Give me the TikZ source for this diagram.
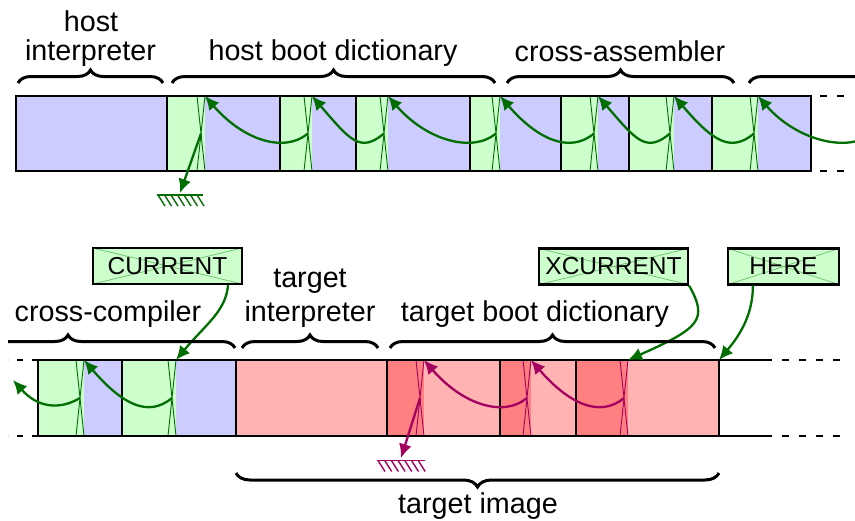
\documentclass[tikz,border=0pt]{standalone}
\usepackage{fontspec}
\setmainfont{Liberation Sans}
\usetikzlibrary{calc,arrows.meta,decorations.pathreplacing}

\definecolor{hostblue}{RGB}{204,204,255}
\definecolor{hdrgreen}{RGB}{204,255,204}
\definecolor{tgtpink}{RGB}{255,179,179}
\definecolor{tgtred}{RGB}{255,128,128}
\definecolor{lnkgreen}{RGB}{0,110,0}
\definecolor{lnkpurple}{RGB}{163,0,95}
\definecolor{crossgreen}{RGB}{120,195,120}

\tikzset{
  cellframe/.style={draw=black, line width=2.3pt},
  linkx/.style={line width=0.9pt},
  linkarrow/.style={line width=2.3pt, -{Latex[length=14pt,width=13pt]}},
  bracedeco/.style={decorate, decoration={brace, amplitude=#1}, line width=3pt},
  bracedeco/.default=13pt,
  lbl/.style={font=\fontsize{28.7}{32}\selectfont, anchor=base, inner sep=0pt},
  ptrbox/.style={draw=black, line width=2.3pt, fill=hdrgreen, inner sep=0pt,
    minimum height=36pt, font=\fontsize{24.5}{26}\selectfont,
    path picture={\draw[crossgreen, line width=0.8pt]
      (path picture bounding box.north west) -- (path picture bounding box.south east)
      (path picture bounding box.south west) -- (path picture bounding box.north east);}},
  rowdash/.style={draw=black, line width=2.3pt, dash pattern=on 7pt off 10pt},
  groundline/.style={line width=1.4pt},
}

\begin{document}
\begin{tikzpicture}[x=1pt,y=-1pt]
\useasboundingbox (0,0) rectangle (855,520);
\clip (8,0) rectangle (855,520);

% ---------- host memory ----------
\fill[hostblue] (16,96) rectangle (167,171);
\draw[cellframe] (16,96) rectangle (167,171);
\foreach \i/\st/\lk/\en in {1/167/197/280, 2/280/304/356, 3/356/380/470,
                            4/470/492/561, 5/561/590/629, 6/629/666/712, 7/712/750/811}{
  \fill[hdrgreen] (\st,96) rectangle (\lk+8,171);
  \fill[hostblue] (\lk+8,96) rectangle (\en,171);
  \draw[lnkgreen, linkx] (\lk,96) -- (\lk+8,171) (\lk+8,96) -- (\lk,171);
  \draw[cellframe] (\st,96) rectangle (\en,171);
  \coordinate (hx\i) at (\lk+4,133.5);
  \coordinate (hc\i) at (\lk+8,96);
}
\coordinate (hx8) at (872,133.5);
\draw[rowdash, dash pattern=on 6.5pt off 10.5pt] (820,96) -- (845,96) (820,171) -- (845,171);

% links of the host dictionary
\foreach \a/\b in {2/1,3/2,4/3,5/4,6/5,7/6,8/7}{
  \draw[lnkgreen, linkarrow] (hx\a) .. controls ($(hx\a)+(-24,20)$) and ($(hc\b)+(38,44)$) .. (hc\b);
}
\coordinate (gtop) at (180,193);
\draw[lnkgreen, linkarrow] (hx1) -- (gtop);
\draw[lnkgreen, groundline] ($(gtop)+(-23,2)$) -- ($(gtop)+(23,2)$);
\foreach \k in {0,...,6}{
  \draw[lnkgreen, groundline] ($(gtop)+(-22+6.5*\k,2)$) -- ++(7,11);
}

% ---------- target side memory ----------
\foreach \i/\st/\lk/\en in {1/38/76/122, 2/122/168/236}{
  \fill[hdrgreen] (\st,360) rectangle (\lk+8,436);
  \fill[hostblue] (\lk+8,360) rectangle (\en,436);
  \draw[lnkgreen, linkx] (\lk,360) -- (\lk+8,436) (\lk+8,360) -- (\lk,436);
  \draw[cellframe] (\st,360) rectangle (\en,436);
  \coordinate (bx\i) at (\lk+4,398);
  \coordinate (bc\i) at (\lk+8,360);
}
\fill[tgtpink] (236,360) rectangle (387,436);
\draw[cellframe] (236,360) rectangle (387,436);
\foreach \i/\st/\lk/\en in {1/387/416/500, 2/500/523/576, 3/576/620/719}{
  \fill[tgtred] (\st,360) rectangle (\lk+8,436);
  \fill[tgtpink] (\lk+8,360) rectangle (\en,436);
  \draw[lnkpurple, linkx] (\lk,360) -- (\lk+8,436) (\lk+8,360) -- (\lk,436);
  \draw[cellframe] (\st,360) rectangle (\en,436);
  \coordinate (tx\i) at (\lk+4,398);
  \coordinate (tc\i) at (\lk+8,360);
}
\coordinate (heretgt) at (719,360);
\draw[cellframe] (719,360) -- (772,360) (719,436) -- (772,436);
\draw[rowdash] (782,360) -- (845,360) (782,436) -- (845,436);
\draw[rowdash, dash pattern=on 6pt off 9pt] (38,360) -- (8,360) (38,436) -- (8,436);

% links of the cross-compiler and the target dictionary
\coordinate (leftend) at (13,380);
\draw[lnkgreen, linkarrow] (bx1) .. controls ($(bx1)+(-20,12)$) and ($(leftend)+(25,28)$) .. (leftend);
\draw[lnkgreen, linkarrow] (bx2) .. controls ($(bx2)+(-24,20)$) and ($(bc1)+(38,44)$) .. (bc1);
\foreach \a/\b in {2/1,3/2}{
  \draw[lnkpurple, linkarrow] (tx\a) .. controls ($(tx\a)+(-24,20)$) and ($(tc\b)+(38,44)$) .. (tc\b);
}
\coordinate (gbot) at (401,458);
\draw[lnkpurple, linkarrow] (tx1) -- (gbot);
\draw[lnkpurple, groundline] ($(gbot)+(-24,2.5)$) -- ($(gbot)+(24,2.5)$);
\foreach \k in {0,...,6}{
  \draw[lnkpurple, groundline] ($(gbot)+(-23+6.7*\k,2.5)$) -- ++(7,11);
}

% ---------- pointers ----------
\node[ptrbox, minimum width=149pt] (cur) at (167.5,266) {CURRENT};
\node[ptrbox, minimum width=149pt] (xcur) at (613.5,266.5) {XCURRENT};
\node[ptrbox, minimum width=111pt] (here) at (783.5,266.5) {HERE};
\coordinate (curout) at ($(cur.south west)!0.9!(cur.south east)$);
\coordinate (hereout) at ($(here.south west)!0.23!(here.south east)$);
\draw[lnkgreen, linkarrow] (curout) .. controls ($(curout)+(-2,26)$) and ($(bc2)+(29,-35)$) .. (bc2);
\draw[lnkgreen, linkarrow] (xcur.south east) .. controls ($(xcur.south east)+(19,34)$) and ($(tc3)+(72,-32)$) .. (tc3);
\draw[lnkgreen, linkarrow] (hereout) .. controls ($(hereout)+(0,29)$) and ($(heretgt)+(21,-25)$) .. (heretgt);

% ---------- braces and labels ----------
\draw[bracedeco] (18,83) -- (163,83);
\draw[bracedeco] (172,83) -- (495,83);
\draw[bracedeco] (507,83) -- (734,83);
\draw[bracedeco] (749,83) -- (990,83);
\draw[bracedeco] (-99,348) -- (235,348);
\draw[bracedeco] (242,348) -- (378,348);
\draw[bracedeco] (390,348) -- (715,348);
\draw[bracedeco=14pt] (719,473) -- (236,473);

\node[lbl] (lhost) at (91,31.7) {host};
\node[lbl] (lhostint) at (90.5,60) {interpreter};
\node[lbl] (lhbd) at (333,60) {host boot dictionary};
\node[lbl] (lxasm) at (620,61.5) {cross-assembler};
\node[lbl] (lxcomp) at (108,321.7) {cross-compiler};
\node[lbl] (ltgt) at (310,287) {target};
\node[lbl] (ltgtint) at (310,321.7) {interpreter};
\node[lbl] (ltbd) at (535,321.7) {target boot dictionary};
\node[lbl] (ltimg) at (478,513) {target image};
\end{tikzpicture}
\end{document}
